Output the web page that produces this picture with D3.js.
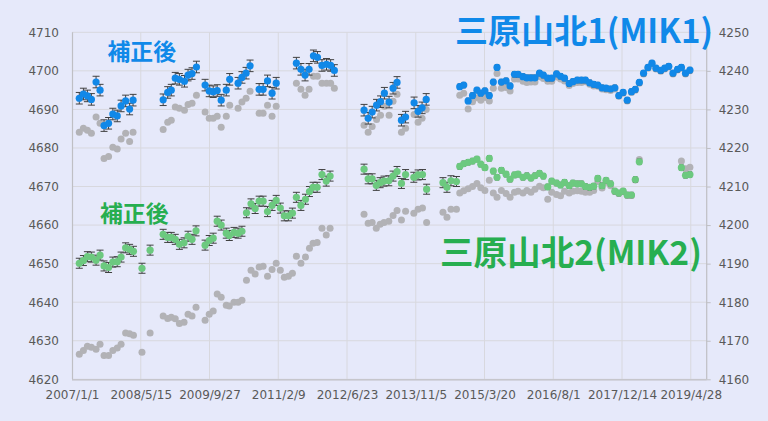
<!DOCTYPE html>
<html><head><meta charset="utf-8">
<script src="https://cdn.jsdelivr.net/npm/d3@7"></script>
<style>
html,body{margin:0;padding:0;background:#E6E9FA;}
svg{display:block;}
</style></head><body>
<svg id="c" width="768" height="421"></svg>
<script>
// ---------- data ----------
const xTickLabels = ["2007/1/1","2008/5/15","2009/9/27","2011/2/9","2012/6/23","2013/11/5","2015/3/20","2016/8/1","2017/12/14","2019/4/28"];
const yLeftTicks = [4620,4630,4640,4650,4660,4670,4680,4690,4700,4710];
const yRightTicks = [4160,4170,4180,4190,4200,4210,4220,4230,4240,4250];
const xDomainEnd = "2019-08-22";

const mik1EarlyDates = ["2007-02-23","2007-03-25","2007-04-23","2007-05-22","2007-06-25","2007-07-24","2007-08-22","2007-09-24","2007-10-25","2007-11-26","2007-12-24","2008-01-26","2008-02-24","2008-03-20",
"2008-10-25","2008-11-27","2008-12-23","2009-01-21","2009-02-20","2009-03-29","2009-04-24","2009-05-23","2009-06-24",
"2009-08-26","2009-09-25","2009-10-24","2009-11-22","2009-12-21","2010-01-27","2010-02-21","2010-04-23","2010-05-21","2010-06-20","2010-07-19",
"2010-09-23","2010-10-22","2010-11-23","2010-12-26","2011-01-25",
"2011-06-21","2011-07-24","2011-08-23","2011-09-21","2011-10-23","2011-11-21","2011-12-24","2012-01-26","2012-02-25","2012-03-23",
"2012-10-25","2012-11-24","2012-12-23","2013-01-24","2013-02-22","2013-03-22","2013-04-25","2013-05-24","2013-06-22",
"2013-07-24","2013-08-23","2013-10-24","2013-11-22","2013-12-21","2014-01-20"];
const mik1EarlyCorr = [4692.9,4694.0,4693.5,4692.6,4697.1,4695.0,4685.8,4686.4,4688.8,4688.3,4690.9,4692.2,4690.1,4692.4,
4692.5,4694.4,4695.0,4698.1,4697.8,4697.3,4698.9,4699.3,4701.0,
4696.3,4694.8,4694.6,4694.9,4692.4,4695.0,4697.8,4696.8,4698.3,4699.4,4701.3,
4695.2,4695.2,4697.4,4694.2,4696.8,
4702.0,4700.4,4698.9,4700.4,4703.9,4703.5,4701.4,4701.7,4701.4,4700.1,
4689.8,4687.7,4689.3,4691.1,4692.0,4694.2,4691.9,4695.5,4697.0,
4687.2,4688.0,4691.7,4689.5,4690.4,4692.6];
const mik1EarlyRaw = [4684.1,4685.1,4684.6,4683.8,4688.0,4686.4,4677.3,4677.8,4680.2,4679.7,4682.3,4683.8,4681.7,4684.1,
4684.8,4686.7,4687.2,4690.6,4690.3,4689.8,4691.3,4691.6,4693.7,
4689.3,4687.7,4687.7,4688.2,4685.4,4688.2,4691.1,4690.3,4691.9,4692.9,4694.7,
4689.0,4689.0,4691.1,4688.2,4690.8,
4696.8,4695.2,4693.7,4695.2,4698.6,4698.6,4696.8,4696.8,4696.8,4695.5,
4685.9,4684.1,4685.6,4687.4,4688.5,4690.8,4688.5,4692.1,4693.9,
4684.1,4685.1,4688.7,4686.7,4687.7,4690.0];

const mik1LateDates = ["2014-09-21","2014-10-20","2014-11-21","2014-12-23","2015-01-24","2015-02-21","2015-03-23","2015-04-24","2015-05-23","2015-06-19",
"2015-07-21","2015-08-24","2015-09-22","2015-10-24","2015-11-19","2015-12-25","2016-01-22","2016-02-21","2016-03-21","2016-04-23",
"2016-05-21","2016-06-22","2016-07-21","2016-08-25","2016-09-23","2016-10-22","2016-11-25","2016-12-22","2017-01-23","2017-02-22",
"2017-03-23","2017-04-23","2017-05-22","2017-06-21","2017-07-22","2017-08-20","2017-09-22","2017-10-23","2017-11-21","2017-12-22",
"2018-01-21","2018-02-21","2018-03-21","2018-04-19","2018-05-20","2018-06-21","2018-07-20","2018-08-18","2018-09-22","2018-10-21",
"2018-11-19","2018-12-20","2019-01-22","2019-02-19","2019-03-21","2019-04-22"];
const mik1LateCorr = [4235.9,4236.3,4232.2,4233.6,4235.0,4234.2,4234.8,4233.6,4237.1,4240.9,
4237.1,4237.4,4236.1,4239.1,4239.1,4238.5,4238.2,4238.2,4238.2,4239.4,
4238.9,4238.1,4238.1,4239.2,4238.6,4238.1,4236.7,4237.2,4237.6,4237.6,
4237.6,4236.9,4236.5,4236.3,4235.6,4235.5,4235.3,4235.6,4233.6,4234.4,
4232.4,4234.6,4235.2,4237.0,4239.4,4240.9,4242.0,4240.7,4240.1,4240.7,
4241.2,4239.4,4240.4,4240.9,4239.4,4240.2];
const mik1LateRaw = [4233.7,4234.2,4230.1,4232.0,4233.0,4232.4,4233.1,4232.2,4235.5,4239.3,
4235.5,4235.7,4234.8,4237.9,4237.9,4237.3,4237.0,4237.1,4237.1,4238.5,
4238.0,4237.3,4237.3,4238.4,4237.9,4237.4,4236.2,4236.7,4237.0,4237.0,
4237.2,4236.5,4236.1,4236.0,4235.3,4235.1,4234.9,4235.3,4233.4,4234.2,
4232.2,4234.4,4235.0,4236.8,4239.2,4240.7,4241.8,4240.5,4239.9,4240.5,
4241.0,4239.2,4240.2,4240.7,4239.2,4240.0];

const mik2EarlyDates = ["2007-02-23","2007-03-25","2007-04-23","2007-05-22","2007-06-25","2007-07-24","2007-08-22","2007-09-24","2007-10-25","2007-11-26",
"2007-12-24","2008-01-26","2008-02-24","2008-03-23","2008-05-24","2008-07-22","2008-10-25","2008-11-27","2008-12-23","2009-01-21",
"2009-02-20","2009-03-26","2009-04-24","2009-05-23","2009-06-21","2009-08-26","2009-09-25","2009-10-24","2009-11-22","2009-12-21",
"2010-01-27","2010-02-18","2010-03-24","2010-04-23","2010-05-21","2010-06-23","2010-07-26","2010-08-25","2010-09-23","2010-10-22",
"2010-11-23","2010-12-26","2011-01-25","2011-02-24","2011-03-25","2011-04-24","2011-05-23","2011-06-21","2011-07-24","2011-08-26",
"2011-09-24","2011-10-20","2011-11-19","2011-12-24","2012-01-24","2012-02-21","2012-10-25","2012-11-24","2012-12-23","2013-01-22",
"2013-02-19","2013-03-19","2013-04-23","2013-05-24","2013-06-22","2013-07-24","2013-08-23","2013-10-22","2013-11-22","2013-12-24",
"2014-01-23","2014-05-22","2014-06-20","2014-07-19","2014-08-28"];
const mik2EarlyCorr = [4650.1,4650.8,4651.8,4651.7,4650.9,4652.2,4649.4,4649.0,4650.4,4650.5,
4651.7,4654.1,4653.7,4653.2,4648.8,4653.5,4657.6,4656.8,4656.8,4656.3,
4655.0,4655.4,4657.1,4656.3,4658.5,4654.8,4656.0,4656.6,4661.0,4660.0,
4657.9,4657.3,4658.1,4657.9,4658.4,4663.2,4665.5,4664.3,4666.2,4666.2,
4663.5,4665.1,4666.4,4664.4,4662.4,4662.4,4663.1,4667.2,4665.1,4666.7,
4668.7,4669.8,4669.8,4673.1,4671.4,4672.7,4674.5,4672.0,4672.0,4670.3,
4671.0,4671.4,4671.5,4672.7,4673.9,4670.8,4673.1,4672.4,4673.0,4673.1,
4669.3,4671.0,4669.8,4671.5,4671.3];
const mik2EarlyRaw = [4626.5,4627.5,4628.6,4628.3,4627.8,4629.1,4626.2,4626.2,4627.5,4628.1,
4629.1,4632.0,4631.8,4631.4,4627.0,4632.0,4636.4,4635.8,4636.1,4635.7,
4634.5,4634.8,4636.9,4636.4,4638.7,4635.3,4636.9,4637.7,4642.1,4641.3,
4639.2,4639.0,4640.0,4640.0,4640.5,4645.7,4648.3,4647.3,4649.1,4649.3,
4646.7,4648.5,4650.1,4648.3,4646.5,4646.7,4647.5,4651.9,4650.1,4651.7,
4654.0,4655.3,4655.5,4659.2,4657.4,4659.2,4662.8,4660.5,4660.7,4659.2,
4660.2,4660.7,4661.0,4662.5,4663.8,4661.3,4663.6,4663.1,4664.1,4664.4,
4660.7,4663.3,4662.0,4664.1,4664.1];

const mik2LateDates = ["2014-09-21","2014-10-20","2014-11-21","2014-12-23","2015-01-24","2015-02-21","2015-03-23","2015-04-24","2015-05-23","2015-06-19",
"2015-07-21","2015-08-24","2015-09-22","2015-10-24","2015-11-19","2015-12-25","2016-01-22","2016-02-21","2016-03-21","2016-04-23",
"2016-05-21","2016-06-22","2016-07-21","2016-08-25","2016-09-23","2016-10-22","2016-11-25","2016-12-22","2017-01-23","2017-02-22",
"2017-03-23","2017-04-23","2017-05-22","2017-06-21","2017-07-22","2017-08-20","2017-09-22","2017-10-23","2017-11-21","2017-12-22",
"2018-01-21","2018-02-21","2018-03-21","2018-04-19","2019-02-19","2019-03-21","2019-04-22"];
const mik2LateCorr = [4215.2,4215.9,4216.3,4216.6,4217.1,4215.8,4214.9,4217.3,4214.0,4212.4,
4214.2,4213.2,4211.9,4213.0,4213.2,4212.4,4212.8,4212.2,4212.8,4213.4,
4212.7,4209.9,4211.4,4210.9,4210.4,4211.1,4210.2,4210.9,4210.7,4210.7,
4210.0,4209.8,4210.1,4212.1,4210.2,4211.6,4210.7,4208.8,4208.3,4208.8,
4207.8,4207.8,4211.8,4216.4,4214.9,4212.9,4213.1];
const mik2LateRaw = [4208.3,4208.9,4209.4,4210.0,4210.8,4209.7,4209.0,4211.6,4208.3,4207.2,
4209.0,4208.2,4207.2,4208.5,4208.8,4208.3,4209.0,4208.5,4209.3,4210.1,
4209.7,4206.7,4208.5,4207.9,4207.6,4208.8,4208.3,4208.8,4208.9,4208.8,
4208.5,4208.5,4209.0,4211.3,4209.6,4211.1,4210.2,4208.7,4208.2,4208.7,
4207.7,4207.7,4211.7,4217.0,4216.6,4214.6,4215.0];

const errEarly1 = 1.5, errEarly2 = 1.3, errLate = 0.7;

// ---------- chart ----------
const svg = d3.select("#c");
const bg = "#E6E9FA";
svg.append("rect").attr("width",768).attr("height",421).attr("fill",bg);

const L = 72, R = 706.7, T = 32.3, B = 379.3;
const parse = d3.timeParse("%Y-%m-%d");
const parseTick = d3.timeParse("%Y/%m/%d");
const xTicks = xTickLabels.map(parseTick);
const x = d3.scaleTime().domain([xTicks[0], parse(xDomainEnd)]).range([L, R]);
const yL = d3.scaleLinear().domain([yLeftTicks[0], yLeftTicks[yLeftTicks.length-1]]).range([B, T]);
const yR = d3.scaleLinear().domain([yRightTicks[0], yRightTicks[yRightTicks.length-1]]).range([B, T]);

const gridC = "#D8D8DE", axisC = "#BFBFC4", textC = "#595959";
const font = "DejaVu Sans, Verdana, sans-serif";

// gridlines
svg.append("g").selectAll("line").data(yLeftTicks).join("line")
  .attr("x1",L).attr("x2",R).attr("y1",d=>yL(d)).attr("y2",d=>yL(d))
  .attr("stroke",gridC).attr("stroke-width",1);
svg.append("g").selectAll("line").data(xTicks.slice(1)).join("line")
  .attr("x1",d=>x(d)).attr("x2",d=>x(d)).attr("y1",T).attr("y2",B)
  .attr("stroke",gridC).attr("stroke-width",1);

// axes
const fmt = {};
xTicks.forEach((d,i)=>fmt[+d]=xTickLabels[i]);
const numFmt = d3.format("d");
const gx = svg.append("g").attr("transform",`translate(0,${B})`)
  .call(d3.axisBottom(x).tickValues(xTicks).tickFormat(d=>fmt[+d]).tickSize(0).tickPadding(11));
const gyl = svg.append("g").attr("transform",`translate(${L},0)`)
  .call(d3.axisLeft(yL).tickValues(yLeftTicks).tickFormat(numFmt).tickSize(0).tickPadding(13));
const gyr = svg.append("g").attr("transform",`translate(${R},0)`)
  .call(d3.axisRight(yR).tickValues(yRightTicks).tickFormat(numFmt).tickSize(4).tickSizeOuter(0).tickPadding(8));
[gx,gyl,gyr].forEach(g=>{
  g.selectAll("path").attr("stroke",axisC).attr("stroke-width",1.2);
  g.selectAll("line").attr("stroke",axisC);
  g.selectAll("text").attr("fill",textC).style("font-family",font).style("font-size","12px");
});
gyl.select("path").attr("d",`M0.5,${T}V${B}`);
gyr.select("path").attr("d",`M0,${T}V${B}`);
gx.select("path").attr("d",`M${L},0.5H${R}`);

// series helper
const gRaw = svg.append("g"), gErr = svg.append("g"), gPts = svg.append("g");
function series(dates, corr, raw, yScale, color, err, cap){
  const dc = dates.map((d,i)=>({t:parse(d), c:corr[i], r:raw[i]}));
  gRaw.append("g").selectAll("circle").data(dc).join("circle")
    .attr("cx",d=>x(d.t)).attr("cy",d=>yScale(d.r)).attr("r",3.5).attr("fill","#B2B2B6");
  const eg = gErr.append("g").attr("stroke","#404040").attr("stroke-width",1);
  eg.selectAll("path").data(dc).join("path")
    .attr("fill","none")
    .attr("d",d=>{
      const cx = x(d.t), y1 = yScale(d.c+err), y2 = yScale(d.c-err);
      return `M${cx},${y1}V${y2}M${cx-cap},${y1}H${cx+cap}M${cx-cap},${y2}H${cx+cap}`;
    });
  gPts.append("g").selectAll("circle").data(dc).join("circle")
    .attr("cx",d=>x(d.t)).attr("cy",d=>yScale(d.c)).attr("r",3.6).attr("fill",color);
}
const blue = "#1188E8", green = "#6CC97F";
series(mik1EarlyDates, mik1EarlyCorr, mik1EarlyRaw, yL, blue, errEarly1, 3.5);
series(mik2EarlyDates, mik2EarlyCorr, mik2EarlyRaw, yL, green, errEarly2, 3.5);
series(mik2LateDates, mik2LateCorr, mik2LateRaw, yR, green, errLate, 2.2);
series(mik1LateDates, mik1LateCorr, mik1LateRaw, yR, blue, errLate, 2.2);

// titles
const tFont = "'Noto Sans CJK JP', 'Noto Sans CJK SC', sans-serif";
function title(txt, x0, x1, baseline, color, size){
  const t = svg.append("text").text(txt).attr("x",x0).attr("y",baseline)
    .attr("fill",color).style("font-family",tFont).style("font-weight","bold")
    .style("font-size",size+"px");
  const w = t.node().getComputedTextLength();
  if (w>0) t.style("font-size",(size*(x1-x0)/w)+"px");
}
title("三原山北1(MIK1)", 455, 713, 43, "#1089E9", 31);
title("補正後", 107.5, 176, 60, "#1089E9", 23);
title("三原山北2(MIK2)", 440, 702, 265, "#27AE50", 31);
title("補正後", 100, 168.5, 222, "#27AE50", 23);
</script>
</body></html>
